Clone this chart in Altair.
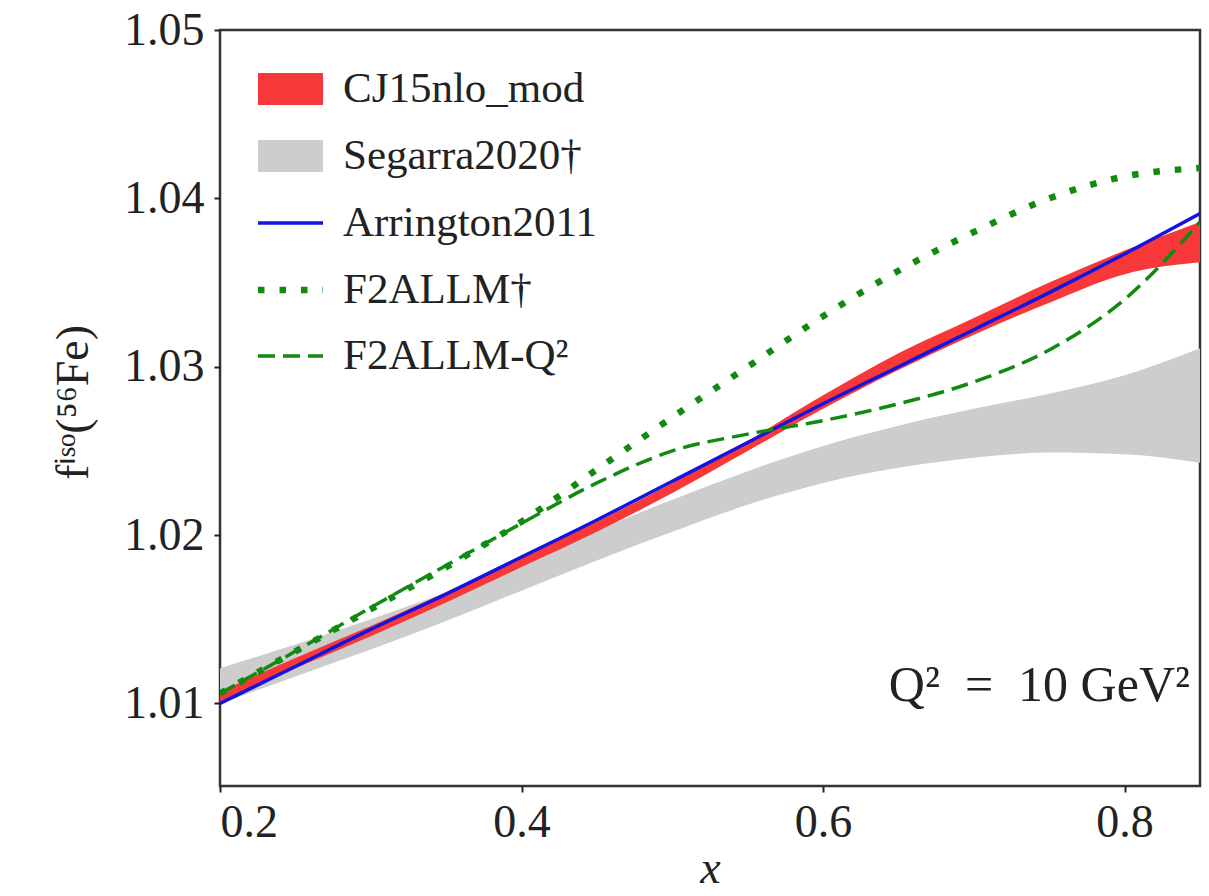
import altair as alt
import pandas as pd

# ---- data ----
x_vals = [0.20, 0.25, 0.30, 0.35, 0.40, 0.45, 0.50, 0.55, 0.60, 0.65, 0.70, 0.75, 0.80, 0.85]
arrington2011 = [1.0100, 1.0122, 1.0144, 1.0165, 1.0187, 1.0209, 1.0232, 1.0255, 1.0278, 1.0300, 1.0322, 1.0344, 1.0367, 1.0391]
cj15_lo = [1.0101, 1.0121, 1.0140, 1.0160, 1.0181, 1.0202, 1.0225, 1.0250, 1.0275, 1.0298, 1.0319, 1.0338, 1.0355, 1.0362]
cj15_hi = [1.0107, 1.0127, 1.0146, 1.0166, 1.0187, 1.0208, 1.0231, 1.0256, 1.0283, 1.0308, 1.0329, 1.0350, 1.0369, 1.0386]
segarra_lo = [1.0100, 1.0116, 1.0132, 1.0149, 1.0167, 1.0185, 1.0202, 1.0218, 1.0231, 1.0240, 1.0246, 1.0249, 1.0248, 1.0243]
segarra_hi = [1.0121, 1.0135, 1.0150, 1.0166, 1.0184, 1.0203, 1.0221, 1.0238, 1.0253, 1.0265, 1.0275, 1.0284, 1.0295, 1.0311]
f2allm = [1.0106, 1.0131, 1.0156, 1.0181, 1.0208, 1.0239, 1.0270, 1.0300, 1.0330, 1.0357, 1.0380, 1.0400, 1.0413, 1.0418]
f2allm_q2 = [1.0106, 1.0131, 1.0157, 1.0182, 1.0207, 1.0231, 1.0250, 1.0260, 1.0268, 1.0278, 1.0291, 1.0310, 1.0340, 1.0386]

legend_labels = ["CJ15nlo_mod", "Segarra2020\u2020", "Arrington2011", "F2ALLM\u2020", "F2ALLM-Q\u00b2"]
x_ticks = [0.2, 0.4, 0.6, 0.8]
y_ticks = [1.01, 1.02, 1.03, 1.04, 1.05]
annotation = "Q\u00b2\u2002=\u200210 GeV\u00b2"

df = pd.DataFrame({
    "x": x_vals, "arr": arrington2011,
    "cj_lo": cj15_lo, "cj_hi": cj15_hi,
    "seg_lo": segarra_lo, "seg_hi": segarra_hi,
    "f2": f2allm, "f2q": f2allm_q2,
})

FONT = "Liberation Serif"
RED = "#f83838"
GRAY = "#cdcdcd"
BLUE = "#1414e0"
GREEN = "#118a11"

W, H = 980, 756

xs = alt.Scale(domain=[0.2, 0.85], nice=False, zero=False)
ys = alt.Scale(domain=[1.0051, 1.05], nice=False, zero=False)

x_axis = alt.Axis(values=x_ticks, format=".1f", title="x", grid=False, domain=False,
                  labelFont=FONT, labelFontSize=46, labelColor="#222", labelPadding=8,
                  tickSize=6, tickWidth=2, tickColor="#222",
                  titleFont=FONT, titleFontSize=46, titleFontStyle="italic", titleFontWeight="normal",
                  titleColor="#222", titleX=490, titleY=82, titleBaseline="middle", titleAlign="center")
y_axis = alt.Axis(values=y_ticks, format=".2f", title="f\u2071\u02e2\u1d52(\u2075\u2076Fe)", grid=False, domain=False,
                  labelFont=FONT, labelFontSize=46, labelColor="#222", labelPadding=10,
                  tickSize=6, tickWidth=2, tickColor="#222",
                  titleFont=FONT, titleFontSize=46, titleFontWeight="normal", titleColor="#222",
                  titleAngle=270, titleX=-147, titleY=372, titleBaseline="middle", titleAlign="center")

base = alt.Chart(df)

seg = base.mark_area(color=GRAY, interpolate="monotone", clip=True).encode(
    x=alt.X("x:Q", scale=xs, axis=x_axis),
    y=alt.Y("seg_lo:Q", scale=ys, axis=y_axis),
    y2="seg_hi:Q",
)
cj = base.mark_area(color=RED, interpolate="monotone", clip=True).encode(
    x=alt.X("x:Q", scale=xs), y=alt.Y("cj_lo:Q", scale=ys), y2="cj_hi:Q"
)
arr = base.mark_line(color=BLUE, strokeWidth=3.5, interpolate="monotone", clip=True).encode(
    x=alt.X("x:Q", scale=xs), y=alt.Y("arr:Q", scale=ys)
)
f2 = base.mark_line(color=GREEN, strokeWidth=6.5, strokeDash=[6.5, 15], interpolate="monotone", clip=True).encode(
    x=alt.X("x:Q", scale=xs), y=alt.Y("f2:Q", scale=ys)
)
f2q = base.mark_line(color=GREEN, strokeWidth=3.5, strokeDash=[17, 8], interpolate="monotone", clip=True).encode(
    x=alt.X("x:Q", scale=xs), y=alt.Y("f2q:Q", scale=ys)
)

# ---- manual legend (top-left inside plot) ----
row_y = [59, 126, 193, 260, 326]
sx0, sx1, tx = 38, 103, 123
leg_df = pd.DataFrame({"label": legend_labels})

def leg_text(i):
    return alt.Chart(leg_df.iloc[[i]]).mark_text(
        font=FONT, fontSize=43, align="left", baseline="middle", color="#222"
    ).encode(x=alt.value(tx), y=alt.value(row_y[i]), text="label:N")

leg = [
    alt.Chart(leg_df.iloc[[0]]).mark_rect(color=RED).encode(
        x=alt.value(sx0), x2=alt.value(sx1), y=alt.value(row_y[0] - 16), y2=alt.value(row_y[0] + 16)),
    alt.Chart(leg_df.iloc[[1]]).mark_rect(color=GRAY).encode(
        x=alt.value(sx0), x2=alt.value(sx1), y=alt.value(row_y[1] - 16), y2=alt.value(row_y[1] + 16)),
    alt.Chart(leg_df.iloc[[2]]).mark_rule(color=BLUE, strokeWidth=3.5).encode(
        x=alt.value(sx0), x2=alt.value(sx1), y=alt.value(row_y[2])),
    alt.Chart(leg_df.iloc[[3]]).mark_rule(color=GREEN, strokeWidth=6.5, strokeDash=[6.5, 15]).encode(
        x=alt.value(sx0), x2=alt.value(sx1), y=alt.value(row_y[3])),
    alt.Chart(leg_df.iloc[[4]]).mark_rule(color=GREEN, strokeWidth=3.5, strokeDash=[17, 8]).encode(
        x=alt.value(sx0), x2=alt.value(sx1), y=alt.value(row_y[4])),
] + [leg_text(i) for i in range(5)]

ann = alt.Chart(pd.DataFrame({"t": [annotation]})).mark_text(
    font=FONT, fontSize=50, align="right", baseline="middle", color="#222"
).encode(x=alt.value(W - 10), y=alt.value(656), text="t:N")

chart = alt.layer(seg, cj, arr, f2, f2q, *leg, ann).properties(
    width=W, height=H,
    autosize=alt.AutoSizeParams(type="none"),
    padding={"left": 220, "top": 30, "right": 9, "bottom": 110},
    background="white",
).configure_view(stroke="#333", strokeWidth=2.5)

chart.save("out.html", embed_options={"renderer": "svg", "actions": False})
